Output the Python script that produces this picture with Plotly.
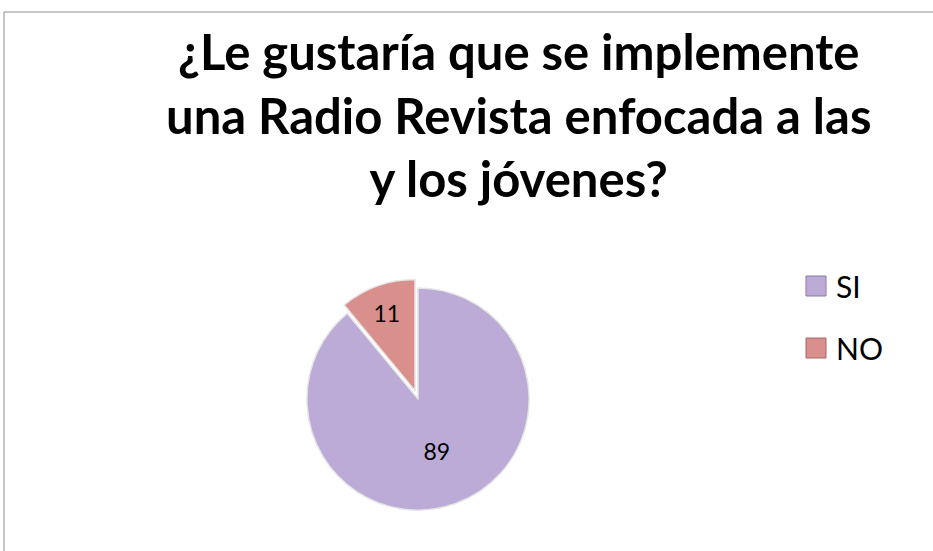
import plotly.graph_objects as go

labels = ["SI", "NO"]
values = [89, 11]
colors = ["#BBABD6", "#D98F8C"]
legend_borders = ["#8C7BA8", "#A86663"]
title_lines = ["¿Le gustaría que se implemente", "una Radio Revista enfocada a las", "y los jóvenes?"]

W, H = 933, 551
cx, cy, R = 418, 399, 120

fig = go.Figure(go.Pie(
    labels=labels,
    values=values,
    sort=False,
    direction="clockwise",
    rotation=0,
    pull=[0, 0.08],
    marker=dict(colors=colors, line=dict(color="#E6E6E6", width=1.5)),
    textinfo="value",
    textposition="inside",
    insidetextorientation="horizontal",
    textfont=dict(family="Lato", size=23, color="#000000"),
    domain=dict(x=[(cx - R) / W, (cx + R) / W], y=[1 - (cy + R) / H, 1 - (cy - R) / H]),
    hoverinfo="label+value",
    showlegend=False,
))

fig.add_annotation(
    text="<br>".join("<b>%s</b>" % t for t in title_lines),
    x=518 / W, y=1 - 20 / H, xref="paper", yref="paper",
    xanchor="center", yanchor="top", showarrow=False,
    font=dict(family="Lato", size=49, color="#000000"),
    align="center",
)

# legend drawn as squares + text, from the labels/colors lists
leg_x, leg_y0, leg_dy, sq = 806, 276, 62, 20
for i, (lab, col, bcol) in enumerate(zip(labels, colors, legend_borders)):
    y_top = leg_y0 + i * leg_dy
    fig.add_shape(type="rect", xref="paper", yref="paper",
                  x0=leg_x / W, x1=(leg_x + sq) / W,
                  y0=1 - (y_top + sq) / H, y1=1 - y_top / H,
                  line=dict(color=bcol, width=1), fillcolor=col)
    fig.add_annotation(text=lab, x=(leg_x + sq + 9) / W, y=1 - (y_top + sq / 2) / H,
                       xref="paper", yref="paper", xanchor="left", yanchor="middle",
                       showarrow=False, borderpad=0,
                       font=dict(family="Lato", size=30, color="#000000"))

fig.add_shape(type="rect", xref="paper", yref="paper",
              x0=4 / W, x1=1.02, y0=-0.02, y1=1 - 12 / H,
              line=dict(color="#8C8C8C", width=1), fillcolor="rgba(0,0,0,0)")

fig.update_layout(
    width=W, height=H,
    margin=dict(l=0, r=0, t=0, b=0),
    paper_bgcolor="#FFFFFF",
    plot_bgcolor="#FFFFFF",
    showlegend=False,
)

fig.write_html("out.html", config={"displayModeBar": False},
               post_script="document.body.style.margin='0';")
